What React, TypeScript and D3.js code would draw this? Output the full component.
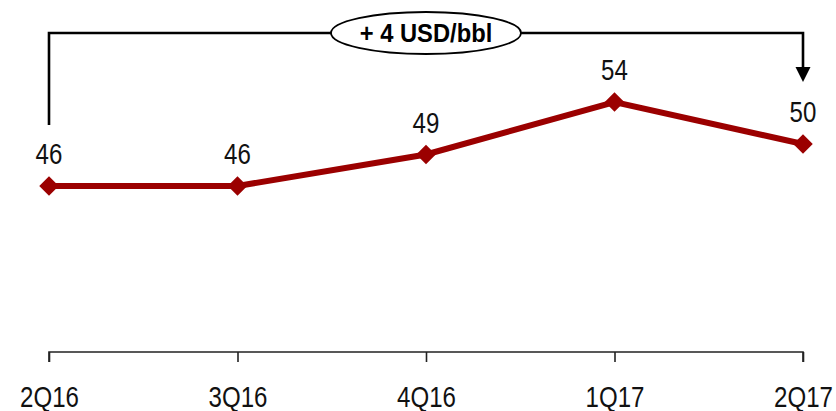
import React, { useEffect, useRef } from 'react'
import * as d3 from 'd3'

const quarters = ['2Q16', '3Q16', '4Q16', '1Q17', '2Q17']
const prices = [46, 46, 49, 54, 50]
const deltaLabel = '+ 4 USD/bbl'

const W = 836
const H = 411
const RED = '#9b0000'
const FONT = "'Liberation Sans', Arial, sans-serif"
// reference uses a narrow face; squeeze the regular one
const NARROW = 0.83

export default function App() {
    const svgRef = useRef<SVGSVGElement>(null)

    useEffect(() => {
        const svg = d3.select(svgRef.current)
        svg.selectAll('*').remove()

        const x = d3.scalePoint<string>()
            .domain(quarters)
            .range([49, 803])
        const y = d3.scaleLinear()
            .domain([46, 54])
            .range([186, 102])

        // bottom axis, ticks pointing down
        const axisY = 352
        const xAxis = d3.axisBottom(x).tickSize(10).tickPadding(0)
        const gx = svg.append('g')
            .attr('transform', `translate(0,${axisY})`)
            .call(xAxis)
        gx.select('.domain')
            .attr('d', `M${x(quarters[0])},10V0H${x(quarters[quarters.length - 1])}V10`)
            .attr('stroke', '#222')
            .attr('stroke-width', 1.6)
        gx.selectAll('.tick line').attr('stroke', '#222').attr('stroke-width', 1.6)
        gx.selectAll('.tick text')
            .attr('font-family', FONT)
            .attr('font-size', 29)
            .attr('fill', '#111')
            .attr('y', 0)
            .attr('dy', null)
            .attr('transform', `translate(0,55) scale(${NARROW},1)`)

        // bracket from first to last point
        const x0 = x(quarters[0])!
        const x1 = x(quarters[quarters.length - 1])!
        const topY = 33
        svg.append('path')
            .attr('d', `M${x0},${y(prices[0]) - 61}V${topY}H${x1}V${70}`)
            .attr('fill', 'none')
            .attr('stroke', '#000')
            .attr('stroke-width', 2.6)
        svg.append('path')
            .attr('d', `M${x1 - 7.5},${67}L${x1 + 7.5},${67}L${x1},${82}Z`)
            .attr('fill', '#000')

        const cx = x(quarters[2])!
        svg.append('ellipse')
            .attr('cx', cx)
            .attr('cy', topY)
            .attr('rx', 95)
            .attr('ry', 21)
            .attr('fill', '#fff')
            .attr('stroke', '#000')
            .attr('stroke-width', 1.8)
        svg.append('text')
            .attr('transform', `translate(${cx},${topY + 9}) scale(0.95,1)`)
            .attr('text-anchor', 'middle')
            .attr('font-family', FONT)
            .attr('font-weight', 'bold')
            .attr('font-size', 25)
            .attr('fill', '#000')
            .text(deltaLabel)

        // price line
        const line = d3.line<number>()
            .x((d, i) => x(quarters[i])!)
            .y(d => y(d))
        svg.append('path')
            .attr('d', line(prices))
            .attr('fill', 'none')
            .attr('stroke', RED)
            .attr('stroke-width', 6)

        const sym = d3.symbol().type(d3.symbolDiamond2).size(242)
        svg.selectAll('.marker')
            .data(prices)
            .enter()
            .append('path')
            .attr('class', 'marker')
            .attr('d', sym)
            .attr('transform', (d, i) => `translate(${x(quarters[i])},${y(d)})`)
            .attr('fill', RED)

        svg.selectAll('.val')
            .data(prices)
            .enter()
            .append('text')
            .attr('class', 'val')
            .attr('transform', (d, i) => `translate(${x(quarters[i])},${y(d) - 22}) scale(${NARROW},1)`)
            .attr('text-anchor', 'middle')
            .attr('font-family', FONT)
            .attr('font-size', 29)
            .attr('fill', '#111')
            .text(d => d)
    }, [])

    return (
        <svg ref={svgRef} width={W} height={H}
            style={{ position: 'absolute', left: 0, top: 0, background: '#fff' }}>
        </svg>
    )
}
